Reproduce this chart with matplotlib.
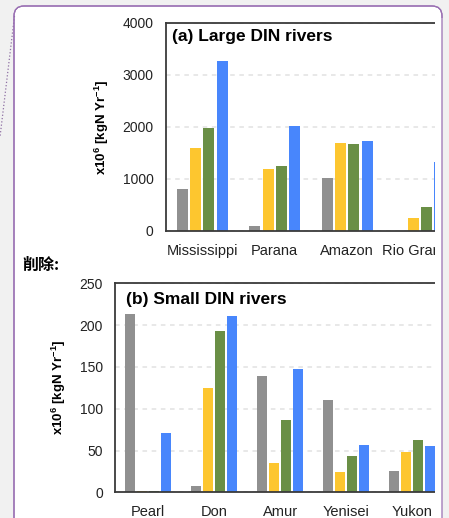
import numpy as np
import matplotlib
matplotlib.use('Agg')
from matplotlib import pyplot as plt
from matplotlib.patches import FancyBboxPatch, Rectangle

#data (x10^6 kgN/yr)
large_rivers = ['Mississippi', 'Parana', 'Amazon', 'Rio Grande']
large_gray = [810, 95, 1015, 3]
large_yellow = [1600, 1185, 1700, 255]
large_green = [1975, 1245, 1675, 455]
large_blue = [3260, 2025, 1725, 1330]

small_rivers = ['Pearl', 'Don', 'Amur', 'Yenisei', 'Yukon']
small_gray = [213, 8, 139, 110, 26]
small_yellow = [1, 125, 35, 24, 48]
small_green = [1, 193, 87, 43, 62]
small_blue = [71, 211, 147, 57, 55]

large_ticks = [0, 1000, 2000, 3000, 4000]
small_ticks = [0, 50, 100, 150, 200, 250]

colors = ['#909090', '#fdc62f', '#6a8f46', '#4886fc']

plt.rcParams['font.family'] = ['Liberation Sans', 'DejaVu Sans']
plt.rcParams['mathtext.default'] = 'regular'

W, H = 449, 518
fig = plt.figure(figsize=(W/100., H/100.), dpi=100)
fig.patch.set_facecolor('#f1f1f1')

#background layer in pixel coords (white comment box with purple border)
bg = fig.add_axes([0, 0, 1, 1], zorder=-1)
bg.set_xlim(0, W)
bg.set_ylim(H, 0)
bg.axis('off')
bg.add_patch(FancyBboxPatch((14, 6), 428, 600, boxstyle='round,pad=0,rounding_size=10',
                            facecolor='white', edgecolor='#9a70b3', lw=0.9))
bg.plot([14.5, 0], [16, 137], ls=':', color='#8e6fa3', lw=0.9)
bg.text(22.5, 265, '削除:', fontsize=11.5, fontweight='bold', va='center', ha='left',
        family=['Noto Sans CJK SC', 'DejaVu Sans'], color='black')


def barpanel(rect, cats, series, ymax, ticks, title, title_off):
    ax = fig.add_axes(rect)
    x = np.arange(len(cats))
    step = 0.182
    for j in range(4):
        ax.bar(x + (j - 1.5)*step, series[j], width=0.152, color=colors[j], lw=0, zorder=2)
    ax.set_xlim(-0.5, len(cats) - 0.5)
    ax.set_ylim(0, ymax)
    ax.set_yticks(ticks)
    ax.set_xticks(x)
    ax.set_xticklabels(cats, fontsize=10.5, color='#222222')
    ax.tick_params(axis='y', length=0, pad=9, labelsize=10, labelcolor='#222222')
    ax.tick_params(axis='x', length=0, pad=9.5)
    ax.yaxis.grid(True, ls=(0, (3, 3)), color='#e2e2e2', lw=1.1)
    ax.set_axisbelow(True)
    for s in ['left', 'top', 'bottom', 'right']:
        ax.spines[s].set_color('#3a3a3a')
        ax.spines[s].set_linewidth(1.3)
    ax.set_ylabel(r'x10$^{6}$ [kgN Yr$^{-1}$]', fontsize=9.5, fontweight='bold', labelpad=8)
    ax.annotate(title, xy=(0, 1), xycoords='axes fraction', xytext=(title_off[0], title_off[1]),
                textcoords='offset pixels', fontsize=12.5, fontweight='bold', va='center', ha='left')
    return ax


axa = barpanel([166./W, (H - 231.)/H, 290./W, 208./H], large_rivers,
               [large_gray, large_yellow, large_green, large_blue], 4000, large_ticks,
               '(a) Large DIN rivers', (6.5, -14))
axb = barpanel([115.3/W, (H - 492.3)/H, 330./W, 209./H], small_rivers,
               [small_gray, small_yellow, small_green, small_blue], 250, small_ticks,
               '(b) Small DIN rivers', (11, -16))

#the original is cut off on the right, cover it again
fg = fig.add_axes([0, 0, 1, 1], zorder=10)
fg.set_xlim(0, W)
fg.set_ylim(H, 0)
fg.axis('off')
fg.patch.set_alpha(0)
fg.add_patch(Rectangle((435, 18), 8, 520, facecolor='white', lw=0))
fg.add_patch(Rectangle((442, 18), 10, 520, facecolor='#f1f1f1', lw=0))
fg.add_patch(FancyBboxPatch((14, 6), 428, 600, boxstyle='round,pad=0,rounding_size=10',
                            facecolor='none', edgecolor='#9a70b3', lw=0.9))

fig.savefig('out.png', dpi=100, facecolor=fig.get_facecolor())
